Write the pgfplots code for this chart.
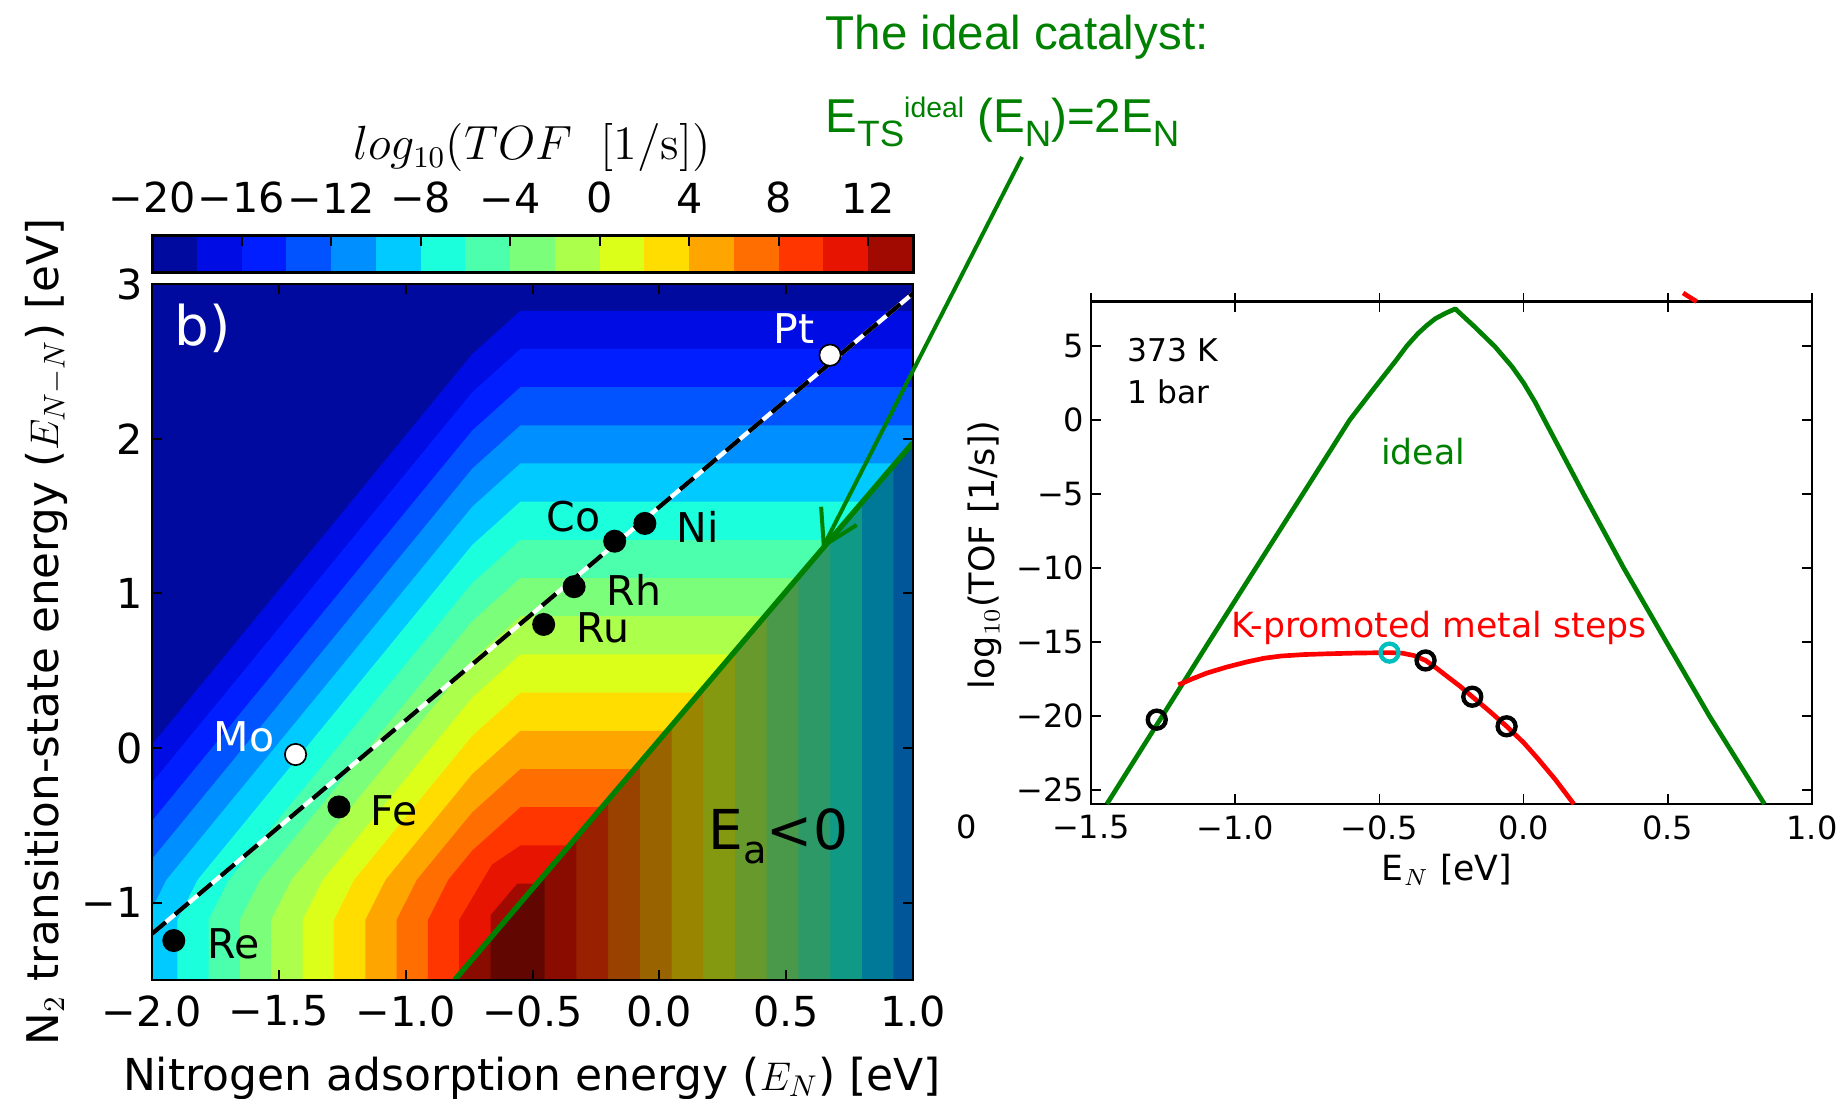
\documentclass[border=0pt]{standalone}
\usepackage[no-math]{fontspec}
\usepackage{pgfplots}
\pgfplotsset{compat=1.18}
\usetikzlibrary{arrows.meta}
\setmainfont{DejaVu Sans}
\newfontfamily\arialf{Liberation Sans}
\newcommand{\fs}[1]{\fontsize{#1}{#1}\selectfont}
\definecolor{c1}{RGB}{0,10,158}
\definecolor{c2}{RGB}{0,12,228}
\definecolor{c3}{RGB}{0,30,255}
\definecolor{c4}{RGB}{0,83,255}
\definecolor{c5}{RGB}{0,143,255}
\definecolor{c6}{RGB}{0,202,255}
\definecolor{c7}{RGB}{27,255,220}
\definecolor{c8}{RGB}{75,255,172}
\definecolor{c9}{RGB}{123,255,123}
\definecolor{c10}{RGB}{172,255,75}
\definecolor{c11}{RGB}{220,255,26}
\definecolor{c12}{RGB}{255,221,0}
\definecolor{c13}{RGB}{255,165,0}
\definecolor{c14}{RGB}{255,110,0}
\definecolor{c15}{RGB}{255,54,0}
\definecolor{c16}{RGB}{230,20,0}
\definecolor{c17}{RGB}{161,10,0}
\colorlet{dc5}{c5!60!black}
\colorlet{dc6}{c6!60!black}
\colorlet{dc7}{c7!60!black}
\colorlet{dc8}{c8!60!black}
\colorlet{dc9}{c9!60!black}
\colorlet{dc10}{c10!60!black}
\colorlet{dc11}{c11!60!black}
\colorlet{dc12}{c12!60!black}
\colorlet{dc13}{c13!60!black}
\colorlet{dc14}{c14!60!black}
\colorlet{dc15}{c15!60!black}
\colorlet{dc16}{c16!60!black}
\colorlet{dc17}{c17!60!black}
\definecolor{ggreen}{RGB}{0,128,0}
\definecolor{mcyan}{RGB}{0,191,191}
\begin{document}
\begin{tikzpicture}
\path[use as bounding box] (0,0) rectangle (553.5pt,329.4pt);

% ---------------- colorbar ----------------
\begin{axis}[at={(45.6pt,247.5pt)}, anchor=south west, width=228.3pt, height=11.1pt, scale only axis,
  xmin=-20, xmax=14, ymin=0, ymax=1, ytick=\empty,
  xtick={-20,-16,-12,-8,-4,0,4,8,12}, xticklabels={−20,−16,−12,−8,−4,0,4,8,12},
  xtick pos=right, xticklabel pos=right,
  tick align=inside, major tick length=3pt,
  xticklabel style={font=\fs{12.4}, inner sep=0pt, anchor=south, yshift=6.6pt},
  axis line style={line width=0.9pt}, every tick/.style={black, line width=0.6pt}, axis on top]
\addplot[fill=c1, draw=none] coordinates {(-20,0)(-18,0)(-18,1)(-20,1)} -- cycle;
\addplot[fill=c2, draw=none] coordinates {(-18,0)(-16,0)(-16,1)(-18,1)} -- cycle;
\addplot[fill=c3, draw=none] coordinates {(-16,0)(-14,0)(-14,1)(-16,1)} -- cycle;
\addplot[fill=c4, draw=none] coordinates {(-14,0)(-12,0)(-12,1)(-14,1)} -- cycle;
\addplot[fill=c5, draw=none] coordinates {(-12,0)(-10,0)(-10,1)(-12,1)} -- cycle;
\addplot[fill=c6, draw=none] coordinates {(-10,0)(-8,0)(-8,1)(-10,1)} -- cycle;
\addplot[fill=c7, draw=none] coordinates {(-8,0)(-6,0)(-6,1)(-8,1)} -- cycle;
\addplot[fill=c8, draw=none] coordinates {(-6,0)(-4,0)(-4,1)(-6,1)} -- cycle;
\addplot[fill=c9, draw=none] coordinates {(-4,0)(-2,0)(-2,1)(-4,1)} -- cycle;
\addplot[fill=c10, draw=none] coordinates {(-2,0)(0,0)(0,1)(-2,1)} -- cycle;
\addplot[fill=c11, draw=none] coordinates {(0,0)(2,0)(2,1)(0,1)} -- cycle;
\addplot[fill=c12, draw=none] coordinates {(2,0)(4,0)(4,1)(2,1)} -- cycle;
\addplot[fill=c13, draw=none] coordinates {(4,0)(6,0)(6,1)(4,1)} -- cycle;
\addplot[fill=c14, draw=none] coordinates {(6,0)(8,0)(8,1)(6,1)} -- cycle;
\addplot[fill=c15, draw=none] coordinates {(8,0)(10,0)(10,1)(8,1)} -- cycle;
\addplot[fill=c16, draw=none] coordinates {(10,0)(12,0)(12,1)(10,1)} -- cycle;
\addplot[fill=c17, draw=none] coordinates {(12,0)(14,0)(14,1)(12,1)} -- cycle;
\end{axis}

% ---------------- left contour map ----------------
\begin{axis}[at={(45.6pt,35.4pt)}, anchor=south west, width=228.3pt, height=208.8pt, scale only axis,
  xmin=-2, xmax=1, ymin=-1.5, ymax=3,
  xtick={-2,-1.5,-1,-0.5,0,0.5,1}, xticklabels={−2.0,−1.5,−1.0,−0.5,0.0,0.5,1.0},
  ytick={-1,0,1,2,3}, yticklabels={−1,0,1,2,3},
  tick align=inside, major tick length=3pt,
  xticklabel style={font=\fs{12.4}, inner sep=0pt, yshift=-4.5pt},
  yticklabel style={font=\fs{12.4}, inner sep=0pt, xshift=-2.7pt},
  axis line style={line width=0.8pt}, every tick/.style={black, line width=0.6pt}, axis on top]
% region E_a > 0 : filled contour bands
\addplot[fill=c1, draw=none] coordinates {(-2.1,-1.6)(1.1,-1.6)(1.1,3.1)(-2.1,3.1)} -- cycle;
\addplot[fill=c2, draw=none] coordinates {(-2.517,-1.6)(1.1,-1.6)(1.1,2.827)(-0.5475,2.827)(-0.7375,2.547)(-2.437,-0.852)(-2.517,-1.112)} -- cycle;
\addplot[fill=c3, draw=none] coordinates {(-2.394,-1.6)(1.1,-1.6)(1.1,2.580)(-0.5475,2.580)(-0.7375,2.300)(-2.314,-0.852)(-2.394,-1.112)} -- cycle;
\addplot[fill=c4, draw=none] coordinates {(-2.270,-1.6)(1.1,-1.6)(1.1,2.333)(-0.5475,2.333)(-0.7375,2.053)(-2.190,-0.852)(-2.270,-1.112)} -- cycle;
\addplot[fill=c5, draw=none] coordinates {(-2.147,-1.6)(1.1,-1.6)(1.1,2.086)(-0.5475,2.086)(-0.7375,1.806)(-2.067,-0.852)(-2.147,-1.112)} -- cycle;
\addplot[fill=c6, draw=none] coordinates {(-2.023,-1.6)(1.1,-1.6)(1.1,1.840)(-0.5475,1.840)(-0.7375,1.560)(-1.943,-0.852)(-2.023,-1.112)} -- cycle;
\addplot[fill=c7, draw=none] coordinates {(-1.900,-1.6)(1.1,-1.6)(1.1,1.593)(-0.5475,1.593)(-0.7375,1.313)(-1.820,-0.852)(-1.900,-1.112)} -- cycle;
\addplot[fill=c8, draw=none] coordinates {(-1.777,-1.6)(1.1,-1.6)(1.1,1.346)(-0.5475,1.346)(-0.7375,1.066)(-1.697,-0.852)(-1.777,-1.112)} -- cycle;
\addplot[fill=c9, draw=none] coordinates {(-1.653,-1.6)(1.1,-1.6)(1.1,1.099)(-0.5475,1.099)(-0.7375,0.819)(-1.573,-0.852)(-1.653,-1.112)} -- cycle;
\addplot[fill=c10, draw=none] coordinates {(-1.530,-1.6)(1.1,-1.6)(1.1,0.852)(-0.5475,0.852)(-0.7375,0.572)(-1.450,-0.852)(-1.530,-1.112)} -- cycle;
\addplot[fill=c11, draw=none] coordinates {(-1.406,-1.6)(1.1,-1.6)(1.1,0.605)(-0.5475,0.605)(-0.7375,0.325)(-1.326,-0.852)(-1.406,-1.112)} -- cycle;
\addplot[fill=c12, draw=none] coordinates {(-1.283,-1.6)(1.1,-1.6)(1.1,0.358)(-0.5475,0.358)(-0.7375,0.078)(-1.203,-0.852)(-1.283,-1.112)} -- cycle;
\addplot[fill=c13, draw=none] coordinates {(-1.159,-1.6)(1.1,-1.6)(1.1,0.111)(-0.5475,0.111)(-0.7375,-0.169)(-1.079,-0.852)(-1.159,-1.112)} -- cycle;
\addplot[fill=c14, draw=none] coordinates {(-1.036,-1.6)(1.1,-1.6)(1.1,-0.136)(-0.5475,-0.136)(-0.7375,-0.416)(-0.956,-0.852)(-1.036,-1.112)} -- cycle;
\addplot[fill=c15, draw=none] coordinates {(-0.912,-1.6)(1.1,-1.6)(1.1,-0.383)(-0.5475,-0.383)(-0.7375,-0.663)(-0.832,-0.852)(-0.912,-1.112)} -- cycle;
\addplot[fill=c16, draw=none] coordinates {(-0.789,-1.6)(1.1,-1.6)(1.1,-0.630)(-0.5475,-0.630)(-0.660,-0.754)(-0.789,-1.112)} -- cycle;
\addplot[fill=c17, draw=none] coordinates {(-0.665,-1.6)(1.1,-1.6)(1.1,-0.877)(-0.560,-0.877)(-0.665,-1.080)} -- cycle;
% region E_a < 0 : darkened vertical bands
\addplot[fill=dc5, draw=none] coordinates {(-0.859,-1.6)(1.1,-1.6)(1.1,2.167)} -- cycle;
\addplot[fill=dc6, draw=none] coordinates {(-0.859,-1.6)(0.923,-1.6)(0.923,1.827)} -- cycle;
\addplot[fill=dc7, draw=none] coordinates {(-0.859,-1.6)(0.798,-1.6)(0.798,1.587)} -- cycle;
\addplot[fill=dc8, draw=none] coordinates {(-0.859,-1.6)(0.673,-1.6)(0.673,1.346)} -- cycle;
\addplot[fill=dc9, draw=none] coordinates {(-0.859,-1.6)(0.548,-1.6)(0.548,1.106)} -- cycle;
\addplot[fill=dc10, draw=none] coordinates {(-0.859,-1.6)(0.423,-1.6)(0.423,0.865)} -- cycle;
\addplot[fill=dc11, draw=none] coordinates {(-0.859,-1.6)(0.298,-1.6)(0.298,0.625)} -- cycle;
\addplot[fill=dc12, draw=none] coordinates {(-0.859,-1.6)(0.173,-1.6)(0.173,0.385)} -- cycle;
\addplot[fill=dc13, draw=none] coordinates {(-0.859,-1.6)(0.048,-1.6)(0.048,0.144)} -- cycle;
\addplot[fill=dc14, draw=none] coordinates {(-0.859,-1.6)(-0.077,-1.6)(-0.077,-0.096)} -- cycle;
\addplot[fill=dc15, draw=none] coordinates {(-0.859,-1.6)(-0.202,-1.6)(-0.202,-0.336)} -- cycle;
\addplot[fill=dc16, draw=none] coordinates {(-0.789,-1.6)(-0.327,-1.6)(-0.327,-0.577)(-0.789,-1.465)} -- cycle;
\addplot[fill=dc17, draw=none] coordinates {(-0.665,-1.6)(-0.452,-1.6)(-0.452,-0.817)(-0.665,-1.227)} -- cycle;
% ideal line E_a = 0
\addplot[ggreen, line width=1.6pt] coordinates {(-0.807,-1.5)(1,1.975)};
% metals
\addplot[only marks, mark=*, mark size=3.2pt, mark options={fill=black, draw=black, line width=0.5pt}] coordinates {(-1.914,-1.245)(-1.263,-0.381)(-0.456,0.799)(-0.336,1.043)(-0.176,1.337)(-0.057,1.452)};
\addplot[only marks, mark=*, mark size=3.2pt, mark options={fill=white, draw=black, line width=0.5pt}] coordinates {(-1.434,-0.042)(0.673,2.540)};
% scaling line
\addplot[white, line width=1.3pt] coordinates {(-2,-1.201)(1,2.939)};
\addplot[black, line width=1.3pt, dash pattern=on 5.4pt off 3.6pt] coordinates {(-2,-1.201)(1,2.939)};
\end{axis}

% ---------------- right panel ----------------
\begin{axis}[at={(327.3pt,88.2pt)}, anchor=south west, width=216.3pt, height=150.72pt, scale only axis,
  xmin=-1.5, xmax=1, ymin=-25.95, ymax=8, clip=false,
  xtick={-1.5,-1,-0.5,0,0.5,1}, xticklabels={−1.5,−1.0,−0.5,0.0,0.5,1.0},
  ytick={-25,-20,-15,-10,-5,0,5}, yticklabels={−25,−20,−15,−10,−5,0,5},
  tick align=inside, major tick length=3pt,
  xticklabel style={font=\fs{9.6}, inner sep=0pt, yshift=-3.3pt},
  yticklabel style={font=\fs{9.6}, inner sep=0pt, xshift=-1.8pt},
  axis line style={line width=0.7pt}, every tick/.style={black, line width=0.5pt}]
\draw[line width=0.7pt] (axis cs:-1.5,8) -- (axis cs:-1.5,8.58);
\draw[line width=0.7pt] (axis cs:1,8) -- (axis cs:1,8.58);
\draw[line width=0.5pt] (axis cs:-1,8) -- (axis cs:-1,8.58);
\draw[line width=0.5pt] (axis cs:-0.5,8) -- (axis cs:-0.5,8.58);
\draw[line width=0.5pt] (axis cs:0,8) -- (axis cs:0,8.58);
\draw[line width=0.5pt] (axis cs:0.5,8) -- (axis cs:0.5,8.58);
\addplot[ggreen, line width=1.4pt, line join=round] coordinates {(-1.445,-25.95)(-1.272,-20.6)(-1.088,-14.9)(-0.940,-10.35)(-0.772,-5.2)(-0.603,0.0)(-0.52,2.1)(-0.445,3.96)(-0.405,5.0)(-0.366,5.85)(-0.335,6.4)(-0.306,6.85)(-0.27,7.22)(-0.237,7.51)(-0.17,6.3)(-0.099,4.95)(-0.04,3.6)(0.0,2.5)(0.04,1.2)(0.075,-0.1)(0.208,-5.0)(0.347,-10.0)(0.495,-15.0)(0.644,-20.0)(0.835,-25.95)};
\addplot[red, line width=1.4pt, line join=round] coordinates {(-1.197,-17.9)(-1.15,-17.5)(-1.098,-17.1)(-1.03,-16.7)(-0.96,-16.35)(-0.90,-16.1)(-0.841,-15.95)(-0.76,-15.85)(-0.682,-15.8)(-0.58,-15.75)(-0.465,-15.72)(-0.42,-15.76)(-0.38,-15.92)(-0.340,-16.25)(-0.30,-16.8)(-0.267,-17.3)(-0.22,-18.0)(-0.178,-18.7)(-0.12,-19.65)(-0.059,-20.7)(0.0,-21.8)(0.050,-22.9)(0.11,-24.3)(0.174,-25.95)};
\addplot[red, line width=1.4pt] coordinates {(0.553,8.58)(0.60,8.0)};
\addplot[only marks, mark=o, mark size=2.7pt, mark options={line width=1.3pt, draw=black}] coordinates {(-1.272,-20.25)(-0.340,-16.25)(-0.178,-18.7)(-0.059,-20.7)};
\addplot[only marks, mark=o, mark size=2.7pt, mark options={line width=1.3pt, draw=mcyan}] coordinates {(-0.465,-15.72)};
\end{axis}

% ---------------- annotations (picture pixel frame) ----------------
\begin{scope}[x=0.3pt, y=-0.3pt, yshift=329.4pt]
\node[anchor=base, font=\fs{13.2}, inner sep=0pt] at (532,1090) {Nitrogen adsorption energy ($E_N$) [eV]};
\node[anchor=base, rotate=90, font=\fs{13.1}, inner sep=0pt] at (58,632) {N$_2$ transition-state energy ($E_{N-N}$) [eV]};
\node[anchor=base, font=\fs{13.5}, inner sep=0pt] at (532,160) {$log_{10}(TOF\ \ [1/\mathrm{s}])$};
\node[anchor=base west, font=\fs{16.4}, text=white, inner sep=0pt] at (174,346) {b)};
\node[anchor=base west, font=\fs{12.3}, text=white, inner sep=0pt] at (773,344) {Pt};
\node[anchor=base east, font=\fs{12.3}, text=white, inner sep=0pt] at (275,751) {Mo};
\node[anchor=base west, font=\fs{12.3}, inner sep=0pt] at (546,531) {Co};
\node[anchor=base west, font=\fs{12.3}, inner sep=0pt] at (676,542) {Ni};
\node[anchor=base west, font=\fs{12.3}, inner sep=0pt] at (606,605) {Rh};
\node[anchor=base west, font=\fs{12.3}, inner sep=0pt] at (576,642) {Ru};
\node[anchor=base west, font=\fs{12.3}, inner sep=0pt] at (370,825) {Fe};
\node[anchor=base west, font=\fs{12.3}, inner sep=0pt] at (207,958) {Re};
\node[anchor=base west, font=\fs{16.5}, inner sep=0pt] at (708,849) {E\raisebox{-4.2pt}{\fs{11.5}a}<0};
% right panel texts
\node[anchor=base west, font=\fs{9.4}, inner sep=0pt] at (1127,362) {373 K};
\node[anchor=base west, font=\fs{9.4}, inner sep=0pt] at (1127,403) {1 bar};
\node[anchor=base, font=\fs{10.4}, text=ggreen, inner sep=0pt] at (1423,465) {ideal};
\node[anchor=base, font=\fs{10.4}, text=red, inner sep=0pt] at (1439,637) {K-promoted metal steps};
\node[anchor=base, font=\fs{10.4}, inner sep=0pt] at (1447,880) {E$_N$ [eV]};
\node[anchor=base, rotate=90, font=\fs{10.5}, inner sep=0pt] at (994,555) {log$_{10}$(TOF [1/s])};
\node[font=\fs{9.6}, inner sep=0pt] at (967,827) {0};
% ideal catalyst annotation
\node[anchor=base west, font=\arialf\fs{14.25}, text=ggreen, inner sep=0pt] at (825,50) {The ideal catalyst:};
\node[anchor=base west, font=\arialf\fs{14.25}, text=ggreen, inner sep=0pt] at (825,133) {E\raisebox{-4.1pt}{\fs{11}TS}\raisebox{4.5pt}{\fs{8.5}ideal} (E\raisebox{-4.1pt}{\fs{11}N})=2E\raisebox{-4.1pt}{\fs{11}N}};
\draw[ggreen, line width=1.2pt, -{Straight Barb[length=10pt,width=12pt]}] (1022,157) -- (822,549);
\end{scope}
\end{tikzpicture}
\end{document}
